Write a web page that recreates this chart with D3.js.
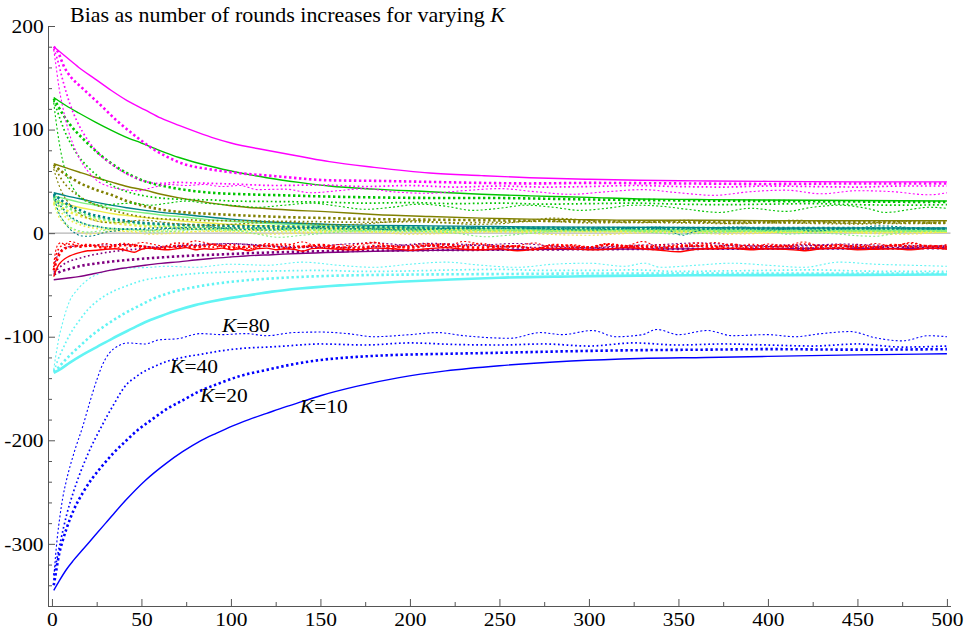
<!DOCTYPE html>
<html lang="en">
<head>
<meta charset="UTF-8">
<title>Bias as number of rounds increases for varying K</title>
<script src="https://d3js.org/d3.v7.min.js"></script>
<style>
  body { margin: 0; background: #fff; }
  svg { display: block; }
  .axis path, .axis line { stroke: #555; }
  .axis text { fill: #000; }
  .series { fill: none; stroke-linecap: butt; stroke-linejoin: round; }
</style>
</head>
<body>
<div id="chart"></div>
<script>
  // ---- data: [round, bias] ----
  const magentaK10 = [[1,180],[8,170],[15,160],[24,149],[33,138],[42,128],[52,119],[61,111],[71,104],[81,97.5],[91,91.5],[100,87],[120,80],[139,74],[155,69],[180,63.5],[211,58],[240,55.5],[267,53.5],[300,52],[328,51],[360,50.5],[400,50],[450,49.5],[500,49.5]];
  const magentaK20 = [[1,180],[3,176],[7,160],[10,152],[17,140],[27,124],[36,109],[45,96],[55,83],[64,74],[75,66],[87,62],[99,59],[125,55],[155,51],[180,50.5],[210,49.5],[240,48.5],[267,48],[300,48.5],[350,48],[400,47.5],[450,48],[500,48]];
  const magentaK40 = [[1,178],[3,168],[6,148],[10,125],[14,108],[20,90],[26,77],[33,67],[42,57],[52,50],[60,48],[70,49],[80,48.5],[100,47.5],[125,46],[150,46.5],[175,45],[200,46],[225,44.5],[250,45.5],[275,44.5],[300,45],[325,46],[350,45],[375,44.5],[400,45.5],[425,45],[450,44.5],[475,45.5],[500,45.5]];
  const magentaK80 = [[1,177],[2,165],[4,140],[6,122],[9,100],[12,85],[16,70],[20,60],[25,51],[32,45],[40,42],[48,41],[56,44],[65,47],[75,46],[85,47],[95,45],[105,46],[115,42],[130,42.5],[145,39],[160,41],[175,43],[190,40],[210,38.5],[230,41],[250,43],[270,40],[290,37.5],[310,40],[330,42],[350,39],[370,36.5],[390,40],[410,41.5],[430,38],[450,41],[470,40],[490,37],[500,39]];

  const greenK10 = [[1,131],[8,123],[15,116],[24,107.5],[33,99.5],[41,93],[50,87],[60,80],[71,73],[83,67],[100,60],[120,53.5],[138,49],[155,45.5],[180,42.5],[211,40],[240,37.5],[267,36],[300,34.5],[328,33],[360,32.5],[400,32],[450,31.5],[500,31]];
  const greenK20 = [[1,130],[3,124],[6,115],[10,105],[14,97],[18,90],[26,77],[36,64],[44,56],[52,50],[61,46],[70,43],[80,40.5],[89,39],[108,37.5],[130,36.5],[150,35.5],[180,34.5],[211,34],[240,34],[267,33.5],[300,32.5],[328,32],[360,31.5],[400,31],[450,30.5],[500,30]];
  const greenK40 = [[1,128],[3,118],[5,108],[8,95],[11,85],[15,74],[20,64],[25,56],[30,50],[36,44],[42,40],[50,36.5],[60,34],[75,32.5],[90,32],[100,31],[125,30.5],[150,30],[175,29],[200,29.5],[225,28.5],[250,29],[275,28],[300,28.5],[325,29],[350,28],[375,27.5],[400,28],[425,28.5],[450,27.5],[475,27],[500,27.5]];
  const greenK80 = [[1,126],[2,112],[4,88],[6,70],[9,53],[12,43],[17,33],[22,29],[28,27],[35,28],[45,29],[55,27],[65,29],[75,31],[85,29],[100,27],[115,25],[130,27],[145,29],[160,26],[175,23],[190,25],[205,28],[220,26],[235,22],[250,24],[265,27],[280,25],[295,22],[310,24],[325,27],[340,26],[355,23],[373,20],[390,24],[410,21],[425,25],[440,27],[455,24],[466,20],[480,23],[490,25],[500,24]];

  const oliveK10 = [[1,67],[8,63],[15,59],[24,54],[33,49.5],[42,45],[52,41.5],[61,37.5],[71,34],[80,31.5],[89,29],[100,26.5],[125,23],[155,20.5],[180,18],[211,16],[240,14.5],[267,13.5],[300,13],[328,12.5],[360,12.5],[400,12],[450,12],[500,12]];
  const oliveK20 = [[1,66],[3,63],[5,60],[8,56],[12,52],[16,48],[20,45],[26,41],[33,37],[42,31],[52,26],[62,22.5],[75,20],[90,18.5],[108,17],[130,15.5],[155,14.5],[180,13.5],[211,13],[240,12.5],[267,12],[300,11.5],[350,11],[400,10.5],[450,10.5],[500,10]];
  const oliveK40 = [[1,64],[3,59],[5,53],[8,46],[11,41],[15,36],[20,31],[25,27],[30,24],[36,21],[42,18.5],[50,16],[60,14],[75,13],[90,12],[100,12],[125,11.5],[150,11],[175,10.5],[200,11],[225,10],[250,10.5],[275,11.5],[300,10],[325,10.5],[350,10],[375,9.5],[400,10],[425,9.5],[450,9],[475,9.5],[500,9.5]];
  const oliveK80 = [[1,62],[2,56],[4,46],[6,38],[9,30],[12,24],[16,18],[21,14],[27,11],[34,10],[42,11],[50,12.5],[60,11],[70,9],[80,8],[90,7.5],[100,8.5],[115,10],[130,11],[145,9],[160,8],[175,9],[190,11],[205,12],[220,10],[235,8.5],[250,9],[265,12],[280,14.5],[295,13],[310,11],[325,10],[340,11],[355,12.5],[370,10],[385,9],[400,11],[415,12.5],[430,11],[445,9.5],[460,10],[475,11.5],[490,10.5],[500,11]];

  const tealK10 = [[1,39],[8,36],[15,33.5],[24,30],[33,27],[42,24.5],[52,22],[61,20],[71,18.5],[85,16],[100,13.5],[125,10.5],[155,8.5],[180,7.5],[211,7],[240,6.5],[267,6],[300,5.8],[350,5.5],[400,5],[450,5],[500,5]];
  const tealK20 = [[1,38],[3,35],[5,32],[8,28.5],[12,25],[16,22],[20,19],[26,16.5],[33,14],[41,12],[50,10],[62,9],[75,8],[90,7.5],[100,7],[125,6.5],[150,6],[175,5.8],[200,5.5],[250,5.2],[300,5],[350,5],[400,5],[450,4.8],[500,4.5]];
  const tealK40 = [[1,37],[2,33],[4,28],[6,24],[8,20],[10,16.5],[13,13],[16,10.5],[20,8],[25,6.5],[30,5],[37,4.2],[45,4],[52,4.5],[60,5],[70,4.5],[80,4],[90,4.5],[100,5],[125,4.8],[150,4.5],[175,4],[200,4],[250,4.5],[300,4.5],[350,4],[400,4],[450,4.2],[500,4]];
  const tealK80 = [[1,36],[2,30],[3,24],[4,19],[6,13],[8,8],[10,4],[13,0],[16,-2.5],[20,-3],[23,-2.5],[26,-1],[30,1],[35,2],[40,3.5],[45,4],[55,3],[62,4],[70,5],[85,6],[100,4],[110,3.5],[120,3],[140,5],[160,7],[180,4],[200,3],[225,5],[250,6],[275,4],[300,3],[325,5],[340,6],[352,-2],[358,1],[370,5],[385,6],[400,3],[415,4],[425,2],[440,4],[450,5],[462,7],[475,6],[487,4],[500,4]];

  const lightGreenK10 = [[1,36],[8,33],[15,30],[24,27],[33,24],[42,21.5],[52,19.5],[61,17.5],[71,16],[85,13.5],[100,11.5],[125,9],[155,7],[180,6],[211,5],[240,4.5],[267,4],[300,3.8],[350,3.5],[400,3],[450,3],[500,3]];
  const lightGreenK20 = [[1,35],[3,32],[5,29],[8,25.5],[12,22],[16,19.5],[20,17],[26,14.5],[33,12],[41,10.5],[50,9],[62,7.5],[75,6.5],[90,6],[100,5.5],[125,4.5],[150,4],[175,3.8],[200,3.5],[250,3.2],[300,3],[350,3],[400,2.5],[450,2.5],[500,2.5]];
  const lightGreenK40 = [[1,34],[2,30],[4,26],[6,22],[8,18],[10,15],[13,12],[16,10],[20,8],[25,6.5],[30,5],[37,4],[45,3.5],[52,3],[60,3],[70,3.5],[80,3.5],[90,3],[100,3],[125,2.8],[150,2.5],[175,2.2],[200,2],[250,2.5],[300,2.5],[350,2],[400,2],[450,2.2],[500,2]];
  const lightGreenK80 = [[1,33],[2,27],[3,22],[4,18],[6,13],[8,9],[10,6],[13,3.5],[16,2],[20,1],[26,2],[35,4],[45,3],[55,1],[70,2],[85,4],[100,3],[112,0],[127,-4],[140,-2],[160,1],[180,3],[200,2],[225,0],[243,-3.5],[255,-2],[275,1],[300,3],[325,2],[350,-1],[375,1],[400,3],[410,-1],[425,0],[440,-1],[450,-2.5],[460,-3],[475,1],[490,2],[500,2]];

  const yellowK10 = [[1,31],[8,28],[15,25],[24,22],[33,19],[42,17],[52,15],[61,13.5],[71,12],[85,10],[100,8.5],[125,6.5],[155,5],[180,4.2],[211,3.5],[240,3],[267,2.5],[300,2.2],[350,2],[400,1.5],[450,1.5],[500,1.5]];
  const yellowK20 = [[1,30],[3,27.5],[5,25],[8,22],[12,19],[16,16.5],[20,14.5],[26,12],[33,10],[41,8.5],[50,7],[62,6],[75,5],[90,4.5],[100,4],[125,3.5],[150,3],[175,2.8],[200,2.5],[250,2.2],[300,2],[350,1.8],[400,1.5],[450,1.5],[500,1.5]];
  const yellowK40 = [[1,29],[2,25.5],[4,22],[6,18.5],[8,15],[10,12.5],[13,10],[16,8],[20,6],[25,4.5],[30,3.5],[37,2.5],[45,2],[52,2],[60,2],[70,1.5],[80,1.5],[90,2],[100,2],[125,1.5],[150,1],[175,1.2],[200,1],[250,1.2],[300,1.5],[350,1.2],[400,1],[450,1.2],[500,1]];
  const yellowK80 = [[1,28],[2,23],[3,19],[4,15],[6,11],[8,7.5],[10,5],[13,2.5],[16,1],[20,-1],[26,0],[35,2],[45,1],[55,-1],[70,0],[85,2],[100,1],[120,-1],[140,0],[160,2],[180,1],[200,-1],[225,0],[250,2],[275,-1],[300,-2],[325,0],[350,1],[375,-1],[400,0],[425,2],[450,0],[475,-1],[500,1]];

  const redK10 = [[1,-42],[2,-37],[3,-33],[4,-30],[5,-28],[7,-25],[10,-22],[13,-20],[16,-18.5],[20,-17],[25,-16.5],[30,-15.5],[35,-15],[40,-16],[46,-18.5],[50,-15.5],[55,-14.5],[60,-15.5],[65,-16],[70,-15],[75,-14],[80,-16],[85,-15],[90,-15.5],[95,-14.5],[100,-16],[105,-15],[110,-17],[115,-15],[120,-14.5],[125,-16],[130,-15],[135,-15.5],[140,-17.5],[145,-15],[150,-14.5],[160,-15.5],[170,-16],[180,-14.5],[190,-15],[200,-16.5],[210,-15],[220,-14],[230,-15.5],[240,-16],[250,-15],[260,-17],[270,-15.5],[280,-14.5],[290,-15],[300,-16],[310,-15.5],[320,-14],[330,-15],[340,-16.5],[350,-18],[360,-15.5],[370,-15],[380,-14.5],[390,-16],[400,-15],[410,-15.5],[420,-17],[430,-15],[440,-14.5],[450,-16],[460,-15.5],[470,-15],[480,-16],[490,-14.5],[500,-15.5]];
  const redK20 = [[1,-36],[2,-30],[3,-25],[4,-21],[5,-18],[7,-15],[10,-13.5],[13,-12.5],[16,-13],[20,-12],[30,-14],[40,-11.5],[50,-13],[60,-15],[70,-12.5],[80,-13.5],[90,-11],[100,-14],[110,-13],[120,-12],[130,-14.5],[140,-13],[150,-11.5],[160,-13.5],[170,-15],[180,-12.5],[190,-13],[200,-14],[210,-12],[220,-11],[230,-13.5],[240,-14],[250,-12.5],[260,-13],[270,-15.5],[280,-12],[290,-13],[300,-14],[310,-11.5],[320,-13],[330,-12.5],[340,-14.5],[350,-13],[360,-12],[370,-13.5],[380,-11],[390,-14],[400,-13],[410,-12.5],[420,-15],[430,-13],[440,-12],[450,-13.5],[460,-14],[470,-11.5],[480,-13],[490,-12.5],[500,-13.5]];
  const redK40 = [[1,-33],[2,-24],[3,-18],[4,-14.5],[6,-12],[8,-11],[11,-10.5],[14,-12],[20,-11],[30,-13],[40,-10],[50,-12.5],[60,-14],[70,-9.5],[80,-12],[90,-13.5],[100,-11],[110,-15],[120,-12],[130,-10.5],[140,-13],[150,-12],[160,-14.5],[170,-11],[180,-9],[190,-12.5],[200,-13],[210,-11.5],[220,-14],[230,-12],[240,-10],[250,-13],[260,-12.5],[270,-15],[280,-11],[290,-12],[300,-13.5],[310,-10.5],[320,-12],[330,-14],[340,-11.5],[350,-13],[360,-9.5],[370,-12],[380,-14.5],[390,-11],[400,-12.5],[410,-13],[420,-10.5],[430,-12],[440,-14],[450,-11.5],[460,-13],[470,-12],[480,-10],[490,-12.5],[500,-13]];
  const redK80 = [[1,-30],[2,-18],[3,-12],[4,-10],[5,-9],[7,-11],[10,-8],[20,-13],[30,-10],[40,-15],[50,-9],[60,-12],[70,-14],[80,-7.5],[90,-11],[100,-13],[110,-16],[120,-10],[130,-12],[140,-8.5],[150,-14],[160,-11],[170,-13],[180,-9],[190,-15],[200,-12],[210,-10],[220,-13.5],[230,-8],[240,-11],[250,-14],[260,-12],[270,-9.5],[280,-16],[290,-11],[300,-13],[310,-10],[320,-12.5],[330,-8],[340,-14],[350,-11],[360,-13],[370,-9],[380,-12],[390,-15],[400,-10.5],[410,-12],[420,-8.5],[430,-13],[440,-11],[450,-14],[460,-10],[470,-12.5],[480,-9],[490,-13],[500,-11]];

  const purpleK10 = [[1,-45],[8,-43.5],[15,-42],[24,-39],[33,-35.7],[42,-33.3],[52,-31],[61,-29.2],[71,-27.7],[80,-26],[89,-24.5],[100,-23],[108,-22],[123,-20.8],[138,-19.6],[165,-18.2],[194,-17],[220,-16.5],[250,-16],[300,-15.5],[350,-15.2],[400,-15],[450,-14.8],[500,-14.5]];
  const purpleK20 = [[1,-40],[3,-38.5],[5,-37],[10,-34.5],[15,-32],[24,-29.5],[33,-27.5],[42,-26],[52,-24.5],[65,-23],[80,-21.5],[95,-20.5],[108,-19.5],[130,-18.3],[150,-17.5],[175,-17],[200,-16.5],[250,-16],[300,-15.5],[350,-15.2],[400,-15],[450,-14.8],[500,-14.5]];
  const purpleK40 = [[1,-38],[3,-35],[5,-32],[7,-29.5],[10,-27],[15,-24.5],[20,-22],[26,-20],[33,-18],[41,-16.5],[50,-15],[60,-13.5],[70,-12],[80,-11],[90,-10.5],[100,-10.5],[110,-11],[120,-12],[130,-13],[145,-13.5],[160,-14],[175,-13.5],[190,-12.5],[200,-11],[210,-10],[220,-10.5],[230,-11],[245,-12.5],[260,-13.5],[280,-14],[300,-14],[325,-13.5],[350,-13],[370,-12],[385,-12.5],[400,-12],[415,-11.5],[430,-11.5],[445,-12.5],[460,-13],[475,-12],[490,-12.5],[500,-12.5]];
  const purpleK80 = [[1,-36],[2,-28],[3,-22],[5,-17],[7,-14],[10,-13],[20,-12],[40,-11],[60,-13.5],[80,-12],[100,-10],[120,-12.5],[140,-14],[160,-11],[180,-9.5],[200,-12],[220,-13],[240,-11.5],[260,-10],[280,-12.5],[300,-14],[320,-12],[340,-11],[360,-9.5],[380,-11],[400,-13],[420,-12.5],[440,-10.5],[460,-11.5],[480,-13],[500,-12]];

  const cyanK10 = [[1,-135],[5,-131],[10,-125],[17.5,-117],[25,-110],[33.5,-102],[45,-92],[52,-86],[61,-80],[70,-74.5],[80,-69.5],[89,-66],[100,-62.5],[108,-60.5],[123,-56.5],[138.5,-53.5],[165,-50],[194,-47],[220,-45],[250,-43],[290,-41.8],[328,-41],[400,-40.5],[450,-40.3],[500,-40]];
  const cyanK20 = [[1,-134],[3,-131],[5,-127],[10,-118],[15,-110],[20,-102],[25,-95],[30,-89],[40,-78],[50,-69],[57,-63],[65,-58],[80,-52],[100,-47],[125,-43.5],[150,-41.5],[175,-40.5],[200,-40],[250,-39.5],[300,-39],[350,-39],[400,-39],[450,-39],[500,-39]];
  const cyanK40 = [[1,-133],[2,-129],[3,-124],[6,-112],[10,-98],[15,-85],[20,-74],[25,-66],[30,-60],[35,-55.5],[40,-52],[50,-46],[64,-42],[80,-39],[100,-37.5],[125,-36.5],[150,-36],[175,-37],[200,-36.5],[225,-35.5],[250,-35],[275,-36],[300,-36],[325,-35.5],[350,-37],[375,-36.5],[400,-36],[425,-35.5],[450,-36.5],[475,-37],[500,-37]];
  const cyanK80 = [[1,-132],[2,-120],[3,-110],[4,-100],[5,-93],[7,-80],[10,-65],[14,-55],[20,-45],[28,-38],[40,-34],[55,-33],[64,-32],[80,-33],[100,-30],[120,-31],[140,-28],[160,-31],[180,-33],[200,-30],[220,-28],[240,-31],[260,-33],[280,-30],[300,-29],[320,-32],[331,-29],[340,-33],[360,-31],[380,-29],[400,-31],[420,-33],[440,-28],[460,-30],[480,-31],[500,-32]];

  const blueK10 = [[1,-345],[4,-336],[8,-325],[12,-316],[17.5,-305],[24,-292],[30,-280],[36,-268],[41.7,-257],[52,-239],[64,-222],[73,-211],[83,-200.5],[92,-193],[101,-186],[110,-180],[120,-174],[130,-168],[140,-162.5],[150,-157],[170,-148],[194,-139.5],[220,-133],[250,-128],[290,-123.5],[328,-121],[365,-120],[400,-119],[450,-117.5],[500,-116.5]];
  const blueK20 = [[1,-340],[2,-330],[4,-310],[6,-297],[8.2,-285],[12,-268],[17.5,-250],[22,-238],[27,-227],[34,-213],[41.7,-200],[48,-190],[55,-181],[64,-170],[73.5,-161],[82,-153],[92,-146],[105,-138],[120,-132],[135,-126.5],[150,-122.5],[170,-119.5],[194,-117.5],[220,-116.5],[250,-115.5],[290,-114],[328,-113],[365,-112.5],[400,-112],[450,-112.5],[500,-112]];
  const blueK40 = [[1,-330],[2.6,-316],[5,-296],[8.2,-272],[12,-250],[17.5,-224],[22,-206],[27,-189],[31,-176],[35,-164],[38,-155],[41.7,-146],[46,-140],[50,-135],[57,-129],[64,-124],[73,-120],[83,-117],[95,-113.5],[108,-111],[120,-110],[130,-109],[150,-107],[175,-108],[200,-106],[225,-107.5],[250,-108],[275,-107],[300,-109],[325,-106],[350,-108],[375,-107],[400,-108],[425,-109],[450,-107],[475,-110],[500,-109]];
  const blueK80 = [[1,-335],[2,-312],[3,-294],[4.5,-273],[6,-256],[8.2,-238],[12,-214],[17.5,-185],[21,-164],[25,-142],[28,-128],[32,-116],[37,-109],[42,-106],[52,-107],[60,-103],[70,-102],[83,-97],[95,-98],[108,-97],[120,-99],[135,-96],[150,-95.5],[165,-97],[180,-100],[200,-98],[215,-96],[230,-99],[245,-101],[256,-101.5],[273,-96],[285,-98],[302,-94],[315,-100],[330,-98],[338,-93],[350,-98],[366,-94],[380,-99],[400,-98],[415,-100],[430,-97],[446,-95],[460,-101],[475,-104],[490,-99],[500,-100]];

  // group colours and line style per K
  const groups = [
    { color: "#eeee4a", lines: [yellowK80, yellowK40, yellowK20, yellowK10] },
    { color: "#7ef07e", lines: [lightGreenK80, lightGreenK40, lightGreenK20, lightGreenK10] },
    { color: "#008585", lines: [tealK80, tealK40, tealK20, tealK10] },
    { color: "#808000", lines: [oliveK80, oliveK40, oliveK20, oliveK10] },
    { color: "#00c400", lines: [greenK80, greenK40, greenK20, greenK10] },
    { color: "#ff00ff", lines: [magentaK80, magentaK40, magentaK20, magentaK10] },
    { color: "#62f4f4", lines: [cyanK80, cyanK40, cyanK20, cyanK10], thick: true },
    { color: "#800080", lines: [purpleK80, purpleK40, purpleK20, purpleK10] },
    { color: "#ff0000", lines: [redK80, redK40, redK20, redK10] },
    { color: "#0000ff", lines: [blueK80, blueK40, blueK20, blueK10] }
  ];
  const kStyles = [
    { w: 1.1, dash: "2,2.2" },    // K=80
    { w: 1.7, dash: "1.7,2.6" },  // K=40
    { w: 2.6, dash: "2.4,2.6" },  // K=20
    { w: 1.4, dash: null }        // K=10
  ];
  const kLabels = [
    { k: "80", round: 95, bias: -95.6 },
    { k: "40", round: 66, bias: -135 },
    { k: "20", round: 82.7, bias: -163 },
    { k: "10", round: 138.5, bias: -174 }
  ];

  const width = 966, height = 633;
  const fs = 19.5, sx = 1.1;
  const serif = "Liberation Serif";

  const svg = d3.select("#chart").append("svg")
    .attr("width", width)
    .attr("height", height);

  const x = d3.scaleLinear().domain([-2.2, 502]).range([48, 950.5]);
  const y = d3.scaleLinear().domain([-360, 200]).range([606, 26]);

  // zero line
  svg.append("line")
    .attr("x1", x(-2.2)).attr("x2", x(502))
    .attr("y1", y(0)).attr("y2", y(0))
    .attr("stroke", "#b4b4b4")
    .attr("stroke-width", 1.3);

  const line = d3.line()
    .x(d => x(d[0]))
    .y(d => y(d[1]))
    .curve(d3.curveMonotoneX);

  groups.forEach(g => {
    g.lines.forEach((data, i) => {
      const st = kStyles[i];
      let w = st.w;
      if (g.thick && i === 3) w = 2.6;
      svg.append("path")
        .attr("class", "series")
        .attr("d", line(data))
        .attr("stroke", g.color)
        .attr("stroke-width", w)
        .attr("stroke-dasharray", st.dash);
    });
  });

  // axes, ticks pointing inward
  svg.append("g").attr("class", "axis")
    .attr("transform", `translate(0,${y(-360)})`)
    .call(d3.axisBottom(x).tickValues(d3.range(0, 501, 50)).tickSizeInner(-7).tickSizeOuter(0).tickPadding(6));
  svg.append("g").attr("class", "axis")
    .attr("transform", `translate(0,${y(-360)})`)
    .call(d3.axisBottom(x).tickValues(d3.range(25, 500, 50)).tickSize(-4).tickFormat(""))
    .call(g => g.select(".domain").remove());

  const yAxis = svg.append("g").attr("class", "axis")
    .attr("transform", `translate(${x(-2.2)},0)`)
    .call(d3.axisLeft(y).tickValues(d3.range(-300, 201, 100)).tickSizeInner(-7).tickSizeOuter(0).tickPadding(4));
  svg.append("g").attr("class", "axis")
    .attr("transform", `translate(${x(-2.2)},0)`)
    .call(d3.axisLeft(y).tickValues(d3.range(-360, 200, 20).filter(v => v % 100 !== 0)).tickSize(-4).tickFormat(""))
    .call(g => g.select(".domain").remove());

  svg.selectAll(".axis text")
    .style("font-family", serif)
    .style("font-size", fs + "px")
    .attr("transform", `scale(${sx},1)`);
  yAxis.selectAll("text").text(d => d < 0 ? "-" + Math.abs(d) : d);

  function label(px, py, parts, size) {
    const t = svg.append("g")
      .attr("transform", `translate(${px},${py}) scale(${sx},1)`)
      .append("text")
      .style("font-family", serif)
      .style("font-size", (size || fs) + "px")
      .attr("fill", "#000");
    parts.forEach(p => t.append("tspan").style("font-style", p[1] ? "italic" : null).text(p[0]));
  }

  label(70, 22, [["Bias as number of rounds increases for varying "], ["K", true]], 20);
  kLabels.forEach(l => label(x(l.round), y(l.bias), [["K", true], ["=" + l.k]]));
</script>
</body>
</html>
